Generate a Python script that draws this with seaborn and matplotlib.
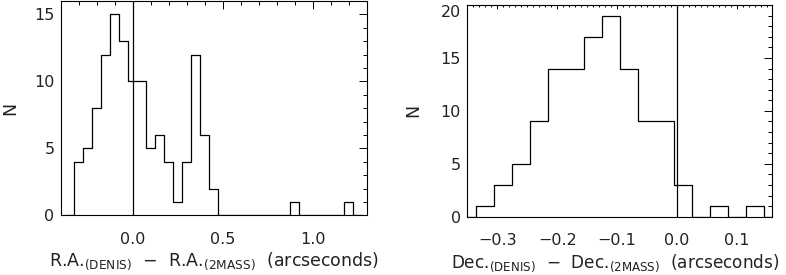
import numpy as np
import pandas as pd
import matplotlib
matplotlib.use('Agg')
import matplotlib.pyplot as plt
import seaborn as sns
from matplotlib.ticker import MultipleLocator, FuncFormatter

# R.A.(DENIS) - R.A.(2MASS): 0.05" bins, first bin starts at -0.325
ra_start = -0.325
ra_width = 0.05
ra_counts = [4, 5, 8, 12, 15, 13, 10, 10, 5, 6, 4, 1, 4, 12, 6, 2,
             0, 0, 0, 0, 0, 0, 0, 0, 1, 0, 0, 0, 0, 0, 1]

# Dec.(DENIS) - Dec.(2MASS): 0.03" bins, first bin starts at -0.335
dec_start = -0.335
dec_width = 0.03
dec_counts = [1, 3, 5, 9, 14, 14, 17, 19, 14, 9, 9, 3, 0, 1, 0, 1]

ra_label = r'R.A.$_{\mathregular{(DENIS)}}$  ' + '\u2212' + r'  R.A.$_{\mathregular{(2MASS)}}$  (arcseconds)'
dec_label = r'Dec.$_{\mathregular{(DENIS)}}$  ' + '\u2212' + r'  Dec.$_{\mathregular{(2MASS)}}$  (arcseconds)'

ink = '#222222'
sns.set_style('white')
plt.rcParams['font.family'] = ['DejaVu Sans']
plt.rcParams['text.color'] = ink
plt.rcParams['axes.labelcolor'] = ink


def hist_frame(start, width, counts):
    # an empty bin on each side so the outline drops back to zero
    n = [0] + list(counts) + [0]
    lo = start - width
    hi = lo + width * len(n)
    centres = lo + width * (np.arange(len(n)) + 0.5)
    return pd.DataFrame({'x': centres, 'n': n}), len(n), (lo, hi)


def minus(v, pos):
    if abs(v) < 1e-9:
        v = 0.0
    return f'{v:.1f}'.replace('-', '\u2212')


def style_axes(ax, xmaj, xmin, xlen, ylen):
    for s in ax.spines.values():
        s.set_visible(True)
        s.set_color('black')
        s.set_linewidth(0.8)
    ax.xaxis.set_major_locator(MultipleLocator(xmaj))
    ax.xaxis.set_minor_locator(MultipleLocator(xmin))
    ax.xaxis.set_major_formatter(FuncFormatter(minus))
    ax.yaxis.set_major_locator(MultipleLocator(5))
    ax.yaxis.set_minor_locator(MultipleLocator(1))
    ax.tick_params(which='both', direction='in', top=True, right=True,
                   width=0.7, labelsize=11.5, colors='black',
                   labelcolor=ink)
    ax.tick_params(axis='x', which='major', length=xlen[0], pad=12)
    ax.tick_params(axis='x', which='minor', length=xlen[1])
    ax.tick_params(axis='y', which='major', length=ylen[0], pad=4.5)
    ax.tick_params(axis='y', which='minor', length=ylen[1])


fig = plt.figure(figsize=(7.86, 2.75), dpi=100)
ax1 = fig.add_axes([0.0772, 0.2164, 0.3893, 0.7800])
ax2 = fig.add_axes([0.5945, 0.2120, 0.3873, 0.7698])

ra_df, ra_nbins, ra_range = hist_frame(ra_start, ra_width, ra_counts)
sns.histplot(data=ra_df, x='x', weights='n', bins=ra_nbins, binrange=ra_range,
             element='step', fill=False, color='black', linewidth=0.9, ax=ax1)
ax1.axvline(0, color='black', linewidth=0.9)
ax1.set_xlim(-0.4, 1.3)
ax1.set_ylim(0, 16)
style_axes(ax1, 0.5, 0.1, (5.8, 2.9), (5.8, 2.9))
ax1.set_xlabel(ra_label, fontsize=12.5)
ax1.set_ylabel('N', fontsize=12.5)
ax1.xaxis.set_label_coords(0.5, -0.165)
ax1.yaxis.set_label_coords(-0.135, 0.5)

dec_df, dec_nbins, dec_range = hist_frame(dec_start, dec_width, dec_counts)
sns.histplot(data=dec_df, x='x', weights='n', bins=dec_nbins, binrange=dec_range,
             element='step', fill=False, color='black', linewidth=0.9, ax=ax2)
ax2.axvline(0, color='black', linewidth=0.9)
ax2.set_xlim(-0.35, 0.158)
ax2.set_ylim(0, 20)
style_axes(ax2, 0.1, 0.01, (3.0, 1.5), (5.8, 2.9))
ax2.set_xlabel(dec_label, fontsize=12.2)
ax2.set_ylabel('N', fontsize=12.5)
ax2.xaxis.set_label_coords(0.485, -0.167)
ax2.yaxis.set_label_coords(-0.149, 0.5)

# the top "20" sits just under the frame, as in the original
fig.canvas.draw()
for tick in ax2.yaxis.get_major_ticks():
    if abs(tick.get_loc() - 20) < 1e-9:
        tick.label1.set_verticalalignment('top')

fig.savefig('out.png', dpi=100)
